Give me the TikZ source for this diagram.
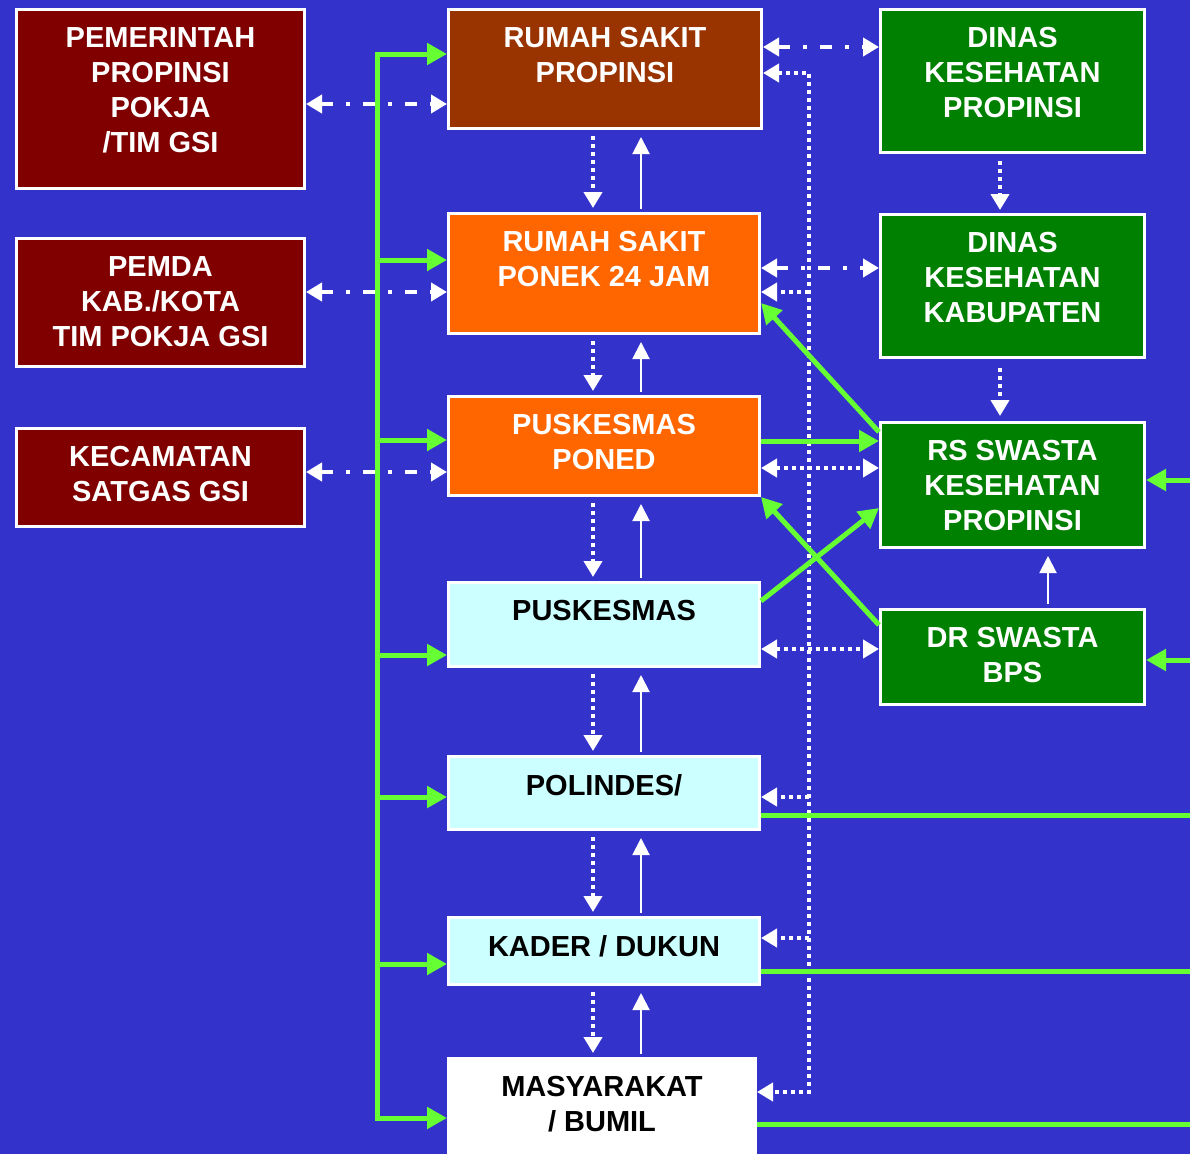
\documentclass[tikz,border=0pt]{standalone}
\usepackage{fontspec}
\setmainfont{Liberation Sans}
\usetikzlibrary{arrows.meta}
\definecolor{bg}{HTML}{3333CC}
\definecolor{govred}{HTML}{800000}
\definecolor{rsbrown}{HTML}{993300}
\definecolor{orng}{HTML}{FF6600}
\definecolor{dgreen}{HTML}{008000}
\definecolor{lcyan}{HTML}{CCFFFF}
\definecolor{lime}{HTML}{66FF33}
\tikzset{
  box/.style={draw=white, line width=3pt, inner sep=0pt, rectangle},
  txt/.style={inner sep=0pt, align=center, anchor=north,
    font=\bfseries\fontsize{29}{35}\selectfont},
  gline/.style={draw=lime, line width=5pt, line join=miter},
  gtip/.tip={Triangle[length=20pt 0 0,width=21pt 0 0]},
  garrow/.style={gline, -gtip},
  gboth/.style={gline, gtip-gtip},
  wtip/.tip={Triangle[length=16pt 0 0,width=18pt 0 0]},
  dotl/.style={draw=white, line width=4pt, dash pattern=on 4pt off 4pt},
  dashdot/.style={draw=white, line width=4pt, dash pattern=on 12pt off 13pt on 4pt off 13pt},
  solidup/.style={draw=white, line width=2pt, -{Triangle[length=17pt 0 0,width=17pt 0 0]}},
}
\begin{document}
\begin{tikzpicture}[x=1pt,y=-1pt]
\fill[bg] (0,0) rectangle (1190,1154);
\useasboundingbox (0,0) rectangle (1190,1154);

% ---- left column: government bodies
\node[box, fill=govred, minimum width=288pt, minimum height=179pt] (pem) at (160.5,99) {};
\node[box, fill=govred, minimum width=288pt, minimum height=128pt] (pemda) at (160.5,302.5) {};
\node[box, fill=govred, minimum width=288pt, minimum height=98pt] (kec) at (160.5,477.5) {};
\node[txt, text=white] (pem-t) at ([yshift=-19pt]pem.north) {PEMERINTAH\\PROPINSI\\POKJA\\/TIM GSI};
\node[txt, text=white] (pemda-t) at ([yshift=-19pt]pemda.north) {PEMDA\\KAB./KOTA\\TIM POKJA GSI};
\node[txt, text=white] (kec-t) at ([yshift=-19pt]kec.north) {KECAMATAN\\SATGAS GSI};

% ---- centre column: referral chain
\node[box, fill=rsbrown, minimum width=313pt, minimum height=119pt] (rsprop) at (605,69) {};
\node[box, fill=orng, minimum width=311pt, minimum height=120pt] (ponek) at (604,273.5) {};
\node[box, fill=orng, minimum width=311pt, minimum height=99pt] (poned) at (604,446) {};
\node[box, fill=lcyan, minimum width=311pt, minimum height=84pt] (pusk) at (604,624.5) {};
\node[box, fill=lcyan, minimum width=311pt, minimum height=73pt] (polindes) at (604,793) {};
\node[box, fill=lcyan, minimum width=311pt, minimum height=67pt] (kader) at (604,951) {};
\node[box, fill=white, minimum width=307pt, minimum height=110pt] (masy) at (602,1113.5) {};
\node[txt, text=white] (rsprop-t) at ([yshift=-19pt]rsprop.north) {RUMAH SAKIT\\PROPINSI};
\node[txt, text=white] (ponek-t) at ([yshift=-19pt]ponek.north) {RUMAH SAKIT\\PONEK 24 JAM};
\node[txt, text=white] (poned-t) at ([yshift=-19pt]poned.north) {PUSKESMAS\\PONED};
\node[txt, text=black] (pusk-t) at ([yshift=-19pt]pusk.north) {PUSKESMAS};
\node[txt, text=black] (polindes-t) at ([yshift=-19pt]polindes.north) {POLINDES/};
\node[txt, text=black] (kader-t) at ([yshift=-19pt]kader.north) {KADER / DUKUN};
\node[txt, text=black] (masy-t) at ([yshift=-19pt]masy.north) {MASYARAKAT\\/ BUMIL};

% ---- right column: health offices and private sector
\node[box, fill=dgreen, minimum width=264pt, minimum height=143pt] (dinprop) at (1012.5,81) {};
\node[box, fill=dgreen, minimum width=264pt, minimum height=143pt] (dinkab) at (1012.5,286) {};
\node[box, fill=dgreen, minimum width=264pt, minimum height=125pt] (rssw) at (1012.5,485) {};
\node[box, fill=dgreen, minimum width=264pt, minimum height=95pt] (drsw) at (1012.5,657) {};
\node[txt, text=white] (dinprop-t) at ([yshift=-19pt]dinprop.north) {DINAS\\KESEHATAN\\PROPINSI};
\node[txt, text=white] (dinkab-t) at ([yshift=-19pt]dinkab.north) {DINAS\\KESEHATAN\\KABUPATEN};
\node[txt, text=white] (rssw-t) at ([yshift=-19pt]rssw.north) {RS SWASTA\\KESEHATAN\\PROPINSI};
\node[txt, text=white] (drsw-t) at ([yshift=-19pt]drsw.north) {DR SWASTA\\BPS};

% ---- coordination links (dash-dot, both ways)
\draw[dashdot, wtip-wtip] (pem.east |- 0,104) -- (rsprop.west |- 0,104);
\draw[dashdot, wtip-wtip] (pemda.east |- 0,292) -- (ponek.west |- 0,292);
\draw[dashdot, wtip-wtip] (kec.east |- 0,472) -- (poned.west |- 0,472);
\draw[dashdot, wtip-wtip] (rsprop.east |- 0,47) -- (dinprop.west |- 0,47);
\draw[dashdot, wtip-wtip] (ponek.east |- 0,268) -- (dinkab.west |- 0,268);

% ---- supervision bus on the right of the centre column
\coordinate (busT) at (809,73);
\coordinate (busB) at (809,1092);
\coordinate (bus1) at (809,292);
\coordinate (bus2) at (809,797);
\coordinate (bus3) at (809,938);
\draw[dotl, wtip-wtip] (rsprop.east |- busT) -- (busT) -- (busB) -- (masy.east |- busB);
\draw[dotl, -wtip] (bus1) -- (ponek.east |- bus1);
\draw[dotl, -wtip] (bus2) -- (polindes.east |- bus2);
\draw[dotl, -wtip] (bus3) -- (kader.east |- bus3);

% ---- dotted two-way links with the private sector
\draw[dotl, wtip-wtip] (poned.east |- 0,468) -- (rssw.west |- 0,468);
\draw[dotl, wtip-wtip] (pusk.east |- 0,649) -- (drsw.west |- 0,649);

% ---- vertical referral arrows in the centre column
\foreach \a/\b in {rsprop/ponek, ponek/poned, poned/pusk, pusk/polindes, polindes/kader, kader/masy}{
  \draw[dotl, -wtip, shorten <=6pt, shorten >=4pt] (\a.south -| 593,0) -- (\b.north -| 593,0);
  \draw[solidup, shorten <=3pt, shorten >=7pt] (\b.north -| 641,0) -- (\a.south -| 641,0);
}

% ---- vertical arrows in the right column
\draw[dotl, -wtip, shorten <=7pt, shorten >=3pt] (dinprop.south -| 1000,0) -- (dinkab.north -| 1000,0);
\draw[dotl, -wtip, shorten <=9pt, shorten >=5pt] (dinkab.south -| 1000,0) -- (rssw.north -| 1000,0);
\draw[solidup, shorten <=4pt, shorten >=7pt] (drsw.north -| 1048,0) -- (rssw.south -| 1048,0);

% ---- green trunk on the left feeding the centre column
\coordinate (trunkT) at (377,54);
\coordinate (trunkB) at (377,1118);
\draw[gboth] (rsprop.west |- trunkT) -- (trunkT) -- (trunkB) -- (masy.west |- trunkB);
\foreach \n/\yy in {ponek/260, poned/440, pusk/655, polindes/797, kader/964}{
  \draw[garrow] (377,\yy) -- (\n.west |- 0,\yy);
}

% ---- green links between centre and private sector
\draw[garrow] (poned.east |- 0,441) -- (rssw.west |- 0,441);
\draw[garrow] (rssw.west |- 0,432) -- (ponek.east |- 0,303);
\draw[garrow] (pusk.east |- 0,601) -- (rssw.west |- 0,508);
\draw[garrow] (drsw.west |- 0,625) -- (poned.south east);

% ---- green lines leaving to the right edge
\coordinate (edgeA) at (1190,480);
\coordinate (edgeB) at (1190,660);
\coordinate (edgeC) at (1190,815);
\coordinate (edgeD) at (1190,971);
\coordinate (edgeE) at (1190,1124);
\draw[garrow] (edgeA) -- (rssw.east |- edgeA);
\draw[garrow] (edgeB) -- (drsw.east |- edgeB);
\draw[gline] (polindes.east |- edgeC) -- (edgeC);
\draw[gline] (kader.east |- edgeD) -- (edgeD);
\draw[gline] (masy.east |- edgeE) -- (edgeE);
\end{tikzpicture}
\end{document}
